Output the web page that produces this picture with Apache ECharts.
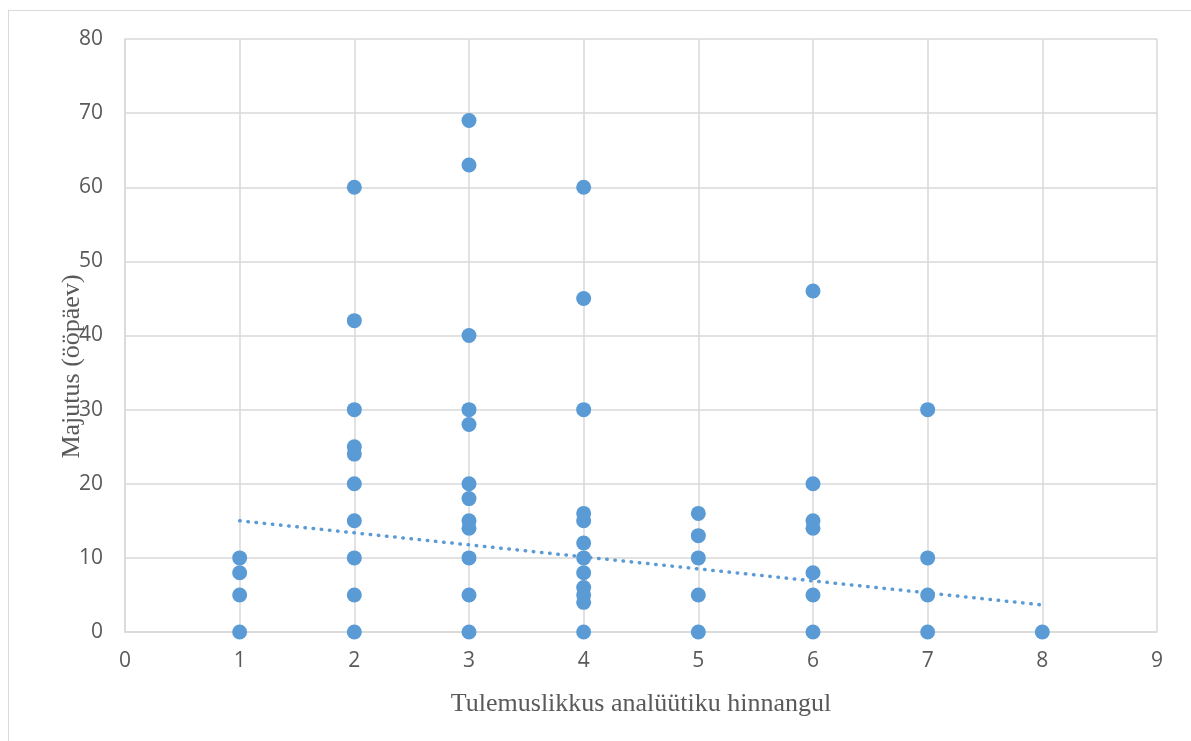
<!DOCTYPE html>
<html>
<head>
<meta charset="utf-8">
<script src="https://cdn.jsdelivr.net/npm/echarts@6/dist/echarts.min.js"></script>
<style>
html,body{margin:0;padding:0;background:#fff;}
#frame{position:absolute;left:8px;top:10px;width:1183px;height:731px;border-left:1.5px solid #d9d9d9;border-top:1.5px solid #d9d9d9;box-sizing:border-box;}
#chart{position:absolute;left:0;top:0;width:1191px;height:741px;}
</style>
</head>
<body>
<div id="frame"></div>
<div id="chart"></div>
<script>
const xTitle = 'Tulemuslikkus analüütiku hinnangul';
const yTitle = 'Majutus (ööpäev)';
const xValues = [1,1,1,1,
  2,2,2,2,2,2,2,2,2,2,
  3,3,3,3,3,3,3,3,3,3,3,3,
  4,4,4,4,4,4,4,4,4,4,4,4,
  5,5,5,5,5,
  6,6,6,6,6,6,6,
  7,7,7,7,
  8];
const yValues = [0,5,8,10,
  0,5,10,15,20,24,25,30,42,60,
  0,5,10,14,15,18,20,28,30,40,63,69,
  0,4,5,6,8,10,12,15,16,30,45,60,
  0,5,10,13,16,
  0,5,8,14,15,20,46,
  0,5,10,30,
  0];
const trendX = [1, 8];
const trendY = [15.0, 3.65];

const points = xValues.map((x, i) => [x, yValues[i]]);
const trend = trendX.map((x, i) => [x, trendY[i]]);

const chart = echarts.init(document.getElementById('chart'), null, {renderer: 'canvas'});
const gridColor = '#d9d9d9';
const labelFont = {color: '#595959', fontSize: 21, fontFamily: 'Open Sans'};
chart.setOption({
  animation: false,
  grid: {left: 125, right: 34, top: 39, bottom: 109, containLabel: false},
  xAxis: {
    type: 'value', min: 0, max: 9, interval: 1,
    name: xTitle, nameLocation: 'middle', nameGap: 59,
    nameTextStyle: {color: '#595959', fontSize: 26, fontFamily: 'Liberation Serif'},
    axisLine: {show: true, lineStyle: {color: gridColor, width: 1.5}},
    axisTick: {show: false},
    axisLabel: Object.assign({margin: 19}, labelFont),
    splitLine: {show: true, lineStyle: {color: gridColor, width: 1.5}}
  },
  yAxis: {
    type: 'value', min: 0, max: 80, interval: 10,
    name: yTitle, nameLocation: 'middle', nameGap: 40, nameMoveOverlap: false,
    nameTextStyle: {color: '#595959', fontSize: 26, fontFamily: 'Liberation Serif', padding: [0, 62, 0, 0]},
    axisLine: {show: true, lineStyle: {color: gridColor, width: 1.5}},
    axisTick: {show: false},
    axisLabel: Object.assign({margin: 22}, labelFont),
    splitLine: {show: true, lineStyle: {color: gridColor, width: 1.5}}
  },
  series: [
    {
      type: 'line', data: trend, showSymbol: false, symbol: 'none',
      lineStyle: {color: '#5B9BD5', width: 3.5, type: [0.5, 7.7], cap: 'round'},
      z: 3, silent: true
    },
    {
      type: 'scatter', data: points, symbolSize: 15,
      itemStyle: {color: '#5B9BD5', opacity: 1},
      z: 4
    }
  ]
});
</script>
</body>
</html>
